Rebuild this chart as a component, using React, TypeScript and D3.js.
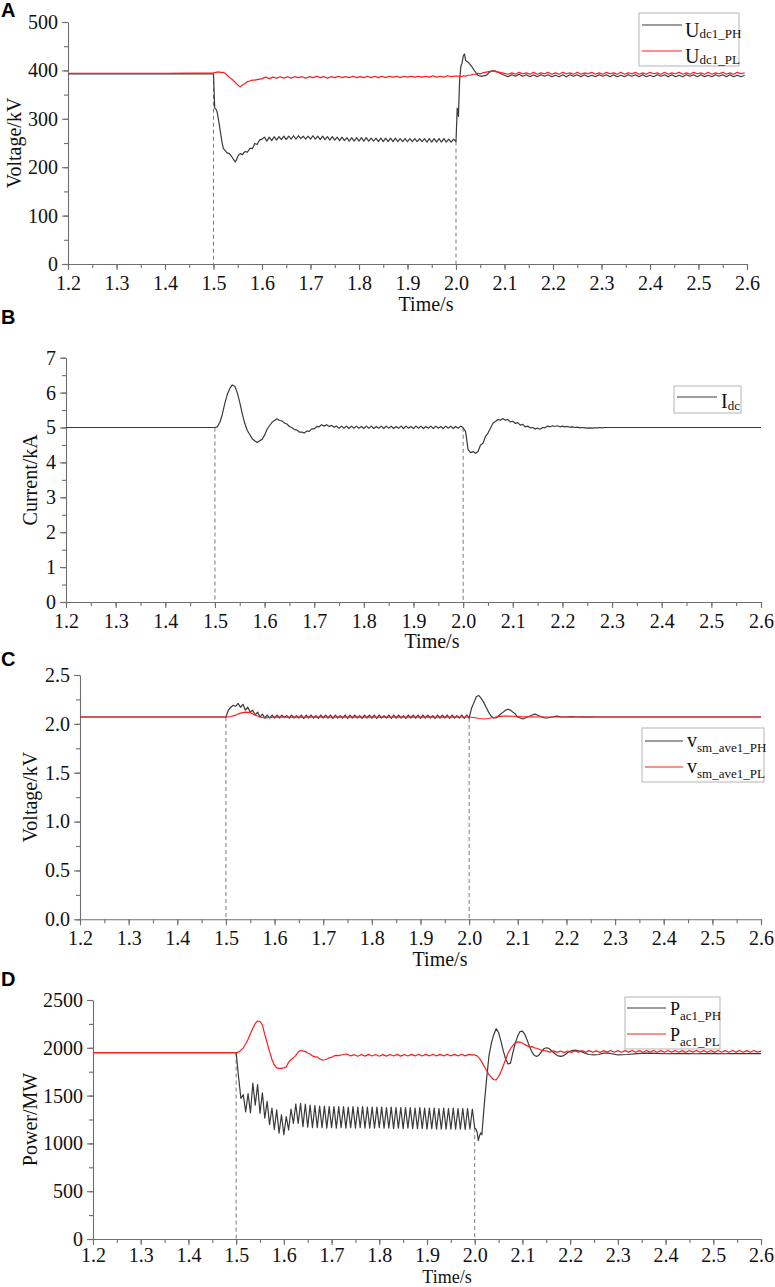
import { useEffect, useRef } from "react";
import * as d3 from "d3";

// [start time, step, values]
type Seg = [number, number, number[]];

const xTicks = [1.2, 1.3, 1.4, 1.5, 1.6, 1.7, 1.8, 1.9, 2.0, 2.1, 2.2, 2.3, 2.4, 2.5, 2.6];
const aYTicks = [0, 100, 200, 300, 400, 500];
const bYTicks = [0, 1, 2, 3, 4, 5, 6, 7];
const cYTicks = [0, 0.5, 1.0, 1.5, 2.0, 2.5];
const dYTicks = [0, 500, 1000, 1500, 2000, 2500];
const faultTimes = [1.5, 2.0];

// Panel A - DC voltage (kV)
const udcPH: Seg[] = [
  [1.2, 0.1, [393, 393, 393, 393]],
  [1.5025, 0.0025, [322, 320, 314, 300, 285, 268, 252, 240, 236, 233, 230, 229, 228, 225, 222, 218, 214, 211, 216, 222,
    226, 228, 227, 226, 230, 232, 232, 231, 235, 239, 239, 238, 243, 249, 248, 247, 252, 256]],
  [1.6, 0.005, [258,
    262, 254, 262, 255, 263, 256, 263, 257, 264, 257,
    264, 258, 265, 258, 265, 259, 264, 258, 264, 258,
    265, 258, 264, 257, 264, 257, 263, 256, 263, 256,
    262, 255, 262, 255, 261, 254, 261, 254, 261, 254,
    261, 254, 261, 254, 260, 254, 260, 253, 260, 253,
    260, 253, 260, 253, 260, 253, 259, 253, 259, 253,
    259, 253, 259, 253, 259, 253, 259, 252, 259, 252,
    259, 252, 259, 252, 259, 252, 258, 252, 258, 253]],
  [2.0025, 0.0025, [322, 305, 380, 408, 415, 430, 434, 420, 419, 417,
    414, 411, 408, 404, 400, 397, 393, 390, 389, 388,
    388, 388, 389, 389, 390, 392, 395, 397, 398, 399,
    399, 399, 398, 397, 396, 395, 393]],
  [2.1, 0.0075, [390, 387, 391, 388, 392, 388, 391, 387, 391, 387,
    391, 388, 391, 387, 390, 387, 391, 387, 391, 388,
    391, 387, 391, 387, 390, 387, 391, 388, 391, 387,
    391, 387, 390, 387, 391, 388, 391, 387, 391, 387,
    390, 387, 391, 388, 391, 387, 391, 387, 390, 387,
    391, 388, 391, 387, 391, 387, 390, 387, 391, 388,
    391, 387, 391, 387, 390, 387, 390]],
];

const udcPL: Seg[] = [
  [1.2, 0.1, [394, 394, 394, 395]],
  [1.505, 0.005, [396, 397, 396, 396, 393, 388, 384, 380, 375, 370, 366, 370, 373, 377, 378, 380, 380, 381, 382, 383]],
  [1.6075, 0.0075, [386, 383, 386, 384, 387, 384, 387, 384, 387, 385,
    387, 384, 387, 385, 388, 385, 387, 384, 387, 385,
    388, 385, 387, 385, 388, 385, 387, 385, 388, 385,
    388, 385, 388, 385, 388, 386, 388, 385, 388, 386,
    388, 386, 388, 386, 388, 386, 389, 386, 388, 386,
    389, 387, 388]],
  [2.005, 0.005, [388, 387, 389, 388, 390, 390, 392, 392, 394, 393, 395, 396, 397, 398, 399, 398, 397, 396, 395, 394]],
  [2.1075, 0.0075, [392, 395, 392, 396, 393, 395, 392, 396, 392, 395,
    393, 396, 392, 395, 392, 396, 393, 395, 392, 396,
    392, 395, 393, 396, 392, 395, 392, 396, 393, 395,
    392, 396, 392, 395, 393, 396, 392, 395, 392, 396,
    393, 395, 392, 396, 392, 395, 393, 396, 392, 395,
    392, 396, 393, 395, 392, 396, 392, 395, 393, 396,
    392, 395, 392, 396, 393, 395]],
];

// Panel B - DC current (kA)
const idc: Seg[] = [
  [1.2, 0.1, [5.0, 5.0, 5.0, 5.0]],
  [1.505, 0.005, [
    5.02, 5.15, 5.38, 5.70, 5.95, 6.12, 6.22, 6.18, 6.00, 5.72,
    5.40, 5.12, 4.92, 4.80, 4.68, 4.62, 4.57, 4.62, 4.66, 4.78,
    4.95, 5.05, 5.15, 5.20, 5.25, 5.20, 5.19, 5.13, 5.10, 5.03,
    5.00, 4.94, 4.93, 4.87, 4.87, 4.84, 4.90, 4.89, 4.96, 4.96,
    5.03, 5.02, 5.08, 5.04, 5.08, 5.03, 5.06, 5.01, 5.04, 4.98,
    5.04, 4.98, 5.04, 4.97, 5.04, 4.98, 5.04, 4.98, 5.03, 4.97,
    5.04, 4.98, 5.04, 4.97, 5.03, 4.98, 5.04, 4.97, 5.04, 4.98,
    5.04, 4.97, 5.03, 4.98, 5.04, 4.97, 5.04, 4.98, 5.03, 4.97,
    5.04, 4.98, 5.04, 4.97, 5.03, 4.98, 5.04, 4.97, 5.04, 4.98,
    5.03, 4.97, 5.04, 4.98, 5.04, 4.97, 5.03, 4.98, 5.04, 4.99]],
  [2.005, 0.005, [
    4.88, 4.36, 4.28, 4.31, 4.26, 4.31, 4.50, 4.55, 4.74, 4.84,
    4.98, 5.12, 5.17, 5.23, 5.21, 5.26, 5.21, 5.23, 5.16, 5.18,
    5.12, 5.14, 5.07, 5.09, 5.02, 5.04, 4.99, 5.00, 4.96, 4.98,
    4.95, 5.00, 4.99, 5.04, 5.02, 5.05, 5.03, 5.05, 5.02, 5.04,
    5.02, 5.03, 5.01, 5.02, 5.00, 5.01, 4.99, 5.00, 4.99, 4.98,
    4.99, 4.98, 4.99, 4.99, 5.00, 4.99, 5.00, 5.00, 5.00, 5.00]],
  [2.35, 0.05, [5.0, 5.0, 5.0, 5.0, 5.0, 5.0]],
];

// Panel C - average submodule voltage (kV)
const vsmPH: Seg[] = [
  [1.2, 0.1, [2.07, 2.07, 2.07, 2.07]],
  [1.505, 0.005, [
    2.14, 2.17, 2.19, 2.18, 2.21, 2.17, 2.20, 2.14, 2.17, 2.12,
    2.14, 2.09, 2.12, 2.07, 2.10, 2.06, 2.09, 2.06, 2.09, 2.06,
    2.09, 2.06, 2.09, 2.065, 2.085, 2.06, 2.09, 2.06, 2.085, 2.06,
    2.09, 2.055, 2.09, 2.06, 2.09, 2.06, 2.085, 2.055, 2.09, 2.06,
    2.09, 2.06, 2.09, 2.055, 2.09, 2.06, 2.085, 2.06, 2.09, 2.055,
    2.09, 2.06, 2.09, 2.06, 2.085, 2.055, 2.09, 2.06, 2.09, 2.06,
    2.09, 2.055, 2.09, 2.06, 2.085, 2.06, 2.09, 2.055, 2.09, 2.06,
    2.09, 2.06, 2.085, 2.055, 2.09, 2.06, 2.09, 2.06, 2.09, 2.055,
    2.09, 2.06, 2.09, 2.06, 2.085, 2.055, 2.09, 2.06, 2.09, 2.06,
    2.09, 2.055, 2.09, 2.06, 2.085, 2.06, 2.09, 2.055, 2.09, 2.06]],
  [2.005, 0.005, [
    2.16, 2.22, 2.28, 2.29, 2.26, 2.22, 2.17, 2.12, 2.08, 2.06,
    2.06, 2.08, 2.10, 2.12, 2.14, 2.15, 2.14, 2.12, 2.10, 2.07,
    2.06, 2.05, 2.06, 2.07, 2.08, 2.09, 2.10, 2.09, 2.08, 2.07,
    2.06, 2.06, 2.065, 2.07, 2.075, 2.08, 2.075, 2.07, 2.07, 2.07]],
  [2.21, 0.01, [2.075, 2.07, 2.072, 2.068, 2.072, 2.07, 2.07, 2.07, 2.07]],
  [2.3, 0.1, [2.07, 2.07, 2.07, 2.07]],
];

const vsmPL: Seg[] = [
  [1.2, 0.1, [2.07, 2.07, 2.07, 2.07]],
  [1.51, 0.01, [2.075, 2.09, 2.11, 2.12, 2.115, 2.09, 2.07, 2.062, 2.065, 2.068]],
  [1.62, 0.02, [2.07, 2.068, 2.07, 2.068, 2.07, 2.068, 2.07, 2.068, 2.07, 2.068,
    2.07, 2.068, 2.07, 2.068, 2.07, 2.068, 2.07, 2.068, 2.07, 2.07]],
  [2.01, 0.01, [2.065, 2.055, 2.05, 2.055, 2.065, 2.075, 2.08, 2.08, 2.078, 2.075, 2.073, 2.072]],
  [2.15, 0.05, [2.07, 2.07, 2.07, 2.07, 2.07, 2.07, 2.07, 2.07, 2.07, 2.07]],
];

// Panel D - AC active power (MW)
const pacPH: Seg[] = [
  [1.2, 0.1, [1950, 1950, 1950, 1950]],
  [1.505, 0.005, [
    1700, 1470, 1510, 1330, 1520, 1320, 1630, 1400, 1615, 1315,
    1530, 1265, 1440, 1195, 1370, 1145, 1350, 1108, 1300, 1090,
    1280, 1140, 1360, 1210, 1410, 1210, 1420,
    1175, 1410, 1170, 1400, 1165, 1395, 1165, 1390, 1165, 1390,
    1160, 1385, 1165, 1385, 1160, 1385, 1165, 1385, 1160, 1380,
    1165, 1385, 1160, 1380, 1165, 1385, 1160, 1380, 1160, 1380,
    1160, 1380, 1165, 1380, 1160, 1375, 1160, 1380, 1155, 1375,
    1160, 1375, 1155, 1375, 1160, 1375, 1155, 1370, 1155, 1375,
    1155, 1370, 1150, 1370, 1155, 1370, 1150, 1365, 1150, 1370,
    1150, 1365, 1150, 1370, 1150, 1365, 1150, 1365, 1145, 1365,
    1150, 1360, 1160]],
  [2.0025, 0.0025, [1150, 1120, 1030, 1080, 1110, 1090, 1250, 1400]],
  [2.025, 0.005, [
    1680, 1920, 2050, 2140, 2200, 2160, 2070, 1965, 1880, 1830,
    1840, 1950, 2050, 2120, 2170, 2175, 2140, 2080, 2010, 1955,
    1920, 1910, 1925, 1960, 1990, 2000, 1995, 1975, 1950, 1930,
    1915, 1910, 1915, 1930, 1950, 1965]],
  [2.21, 0.01, [1975, 1965, 1945, 1930, 1925, 1930, 1945, 1945, 1935, 1925]],
  [2.32, 0.02, [1930, 1940, 1945, 1942, 1938, 1940, 1942, 1938, 1940, 1942, 1938, 1940, 1940, 1940, 1940]],
];

const pacPL: Seg[] = [
  [1.2, 0.1, [1950, 1950, 1950, 1950]],
  [1.505, 0.005, [
    1955, 1975, 2000, 2040, 2090, 2150, 2205, 2255, 2280, 2275,
    2240, 2140, 2050, 1960, 1880, 1820, 1790, 1785, 1785, 1790,
    1800, 1850, 1875, 1895, 1920, 1955, 1972, 1968, 1960, 1945,
    1935, 1915, 1905, 1905, 1885, 1872, 1875, 1880, 1895, 1900,
    1915, 1920, 1918, 1925, 1930, 1935, 1928, 1915]],
  [1.7475, 0.0075, [
    1928, 1912, 1930, 1913, 1931, 1914, 1930, 1912, 1929, 1913,
    1930, 1914, 1931, 1913, 1930, 1914, 1931, 1915, 1932, 1914,
    1931, 1915, 1932, 1915, 1931, 1916, 1932, 1915, 1931, 1916,
    1932, 1916, 1931, 1925]],
  [2.0, 0.005, [
    1925, 1915, 1890, 1850, 1805, 1760, 1720, 1690, 1668, 1665,
    1700, 1750, 1815, 1880, 1945, 1990, 2025, 2050, 2062, 2060,
    2048, 2035, 2020, 2010, 2012, 2000, 1995, 1985, 1975, 1970,
    1968]],
  [2.1575, 0.0075, [
    1955, 1968, 1952, 1966, 1950, 1966, 1952, 1968, 1953, 1970,
    1955, 1970, 1953, 1968, 1952, 1970, 1955, 1971, 1954, 1970,
    1953, 1970, 1955, 1972, 1954, 1970, 1953, 1971, 1955, 1972,
    1954, 1970, 1953, 1971, 1955, 1972, 1954, 1970, 1953, 1971,
    1955, 1972, 1954, 1970, 1953, 1971, 1955, 1972, 1954, 1970,
    1953, 1971, 1955, 1972, 1954, 1970, 1953, 1971, 1955, 1965]],
  [2.6, 1, [1962]],
];

const legendA = [["U", "dc1_PH"], ["U", "dc1_PL"]];
const legendB = [["I", "dc"]];
const legendC = [["v", "sm_ave1_PH"], ["v", "sm_ave1_PL"]];
const legendD = [["P", "ac1_PH"], ["P", "ac1_PL"]];

const DARK = "#3a3a3a";
const RED = "#ff1c1c";
const AXIS = "#6f6f6f";
const SERIF = "'Liberation Serif', 'Times New Roman', serif";

function expand(segs: Seg[]) {
  const out: [number, number][] = [];
  for (const [t0, dt, vals] of segs) vals.forEach((v, i) => out.push([t0 + i * dt, v]));
  return out;
}

const panels = [
  {
    letter: "A", letterY: 17, x0: 68, x1: 747, yTop: 22, yBot: 264, yTicks: aYTicks, yMinor: 50, fmt: "d",
    yLabel: "Voltage/kV", yLabelX: 21, timeX: 426, timeY: 311, timeFont: 20, pad: 6,
    series: [udcPH, udcPL], names: legendA,
    legend: { x: 639, y: 13, w: 100, h: 53, lx1: 642, lx2: 682, tx: 685, font: 20, sub: 13, subDy: 1.5, rows: [[25, 36.5], [51, 62.5]] },
  },
  {
    letter: "B", letterY: 324, x0: 66, x1: 761, yTop: 357.7, yBot: 602, yTicks: bYTicks, yMinor: 0.5, fmt: "d",
    yLabel: "Current/kA", yLabelX: 36.5, timeX: 432, timeY: 648, timeFont: 20, pad: 6,
    series: [idc], names: legendB,
    legend: { x: 674, y: 386, w: 67, h: 27, lx1: 677, lx2: 717, tx: 721, font: 20, sub: 13, subDy: 1.5, rows: [[397, 408]] },
  },
  {
    letter: "C", letterY: 666, x0: 80, x1: 761, yTop: 675, yBot: 919.3, yTicks: cYTicks, yMinor: 0.25, fmt: ".1f",
    yLabel: "Voltage/kV", yLabelX: 36.5, timeX: 440, timeY: 966, timeFont: 20, pad: 6,
    series: [vsmPH, vsmPL], names: legendC,
    legend: { x: 642, y: 728, w: 122, h: 54, lx1: 645, lx2: 683, tx: 687, font: 20, sub: 13, subDy: 5.5, rows: [[741, 746.5], [767, 772.5]] },
  },
  {
    letter: "D", letterY: 986, x0: 93, x1: 761, yTop: 1000, yBot: 1239, yTicks: dYTicks, yMinor: 250, fmt: "d",
    yLabel: "Power/MW", yLabelX: 37, timeX: 447, timeY: 1283, timeFont: 18, pad: 3,
    series: [pacPH, pacPL], names: legendD,
    legend: { x: 625, y: 997, w: 95, h: 52, lx1: 627, lx2: 666, tx: 670, font: 18, sub: 13, subDy: 4.5, rows: [[1008, 1015], [1034, 1041]] },
  },
];

export default function App() {
  const svgRef = useRef<SVGSVGElement | null>(null);

  useEffect(() => {
    if (!svgRef.current) return;
    const svg = d3.select(svgRef.current);
    svg.selectAll("*").remove();

    panels.forEach((p, pi) => {
      const g = svg.append("g");
      const x = d3.scaleLinear().domain([1.2, 2.6]).range([p.x0, p.x1]);
      const yMax = p.yTicks[p.yTicks.length - 1];
      const y = d3.scaleLinear().domain([0, yMax]).range([p.yBot, p.yTop]);

      // panel letter
      g.append("text")
        .attr("x", 1)
        .attr("y", p.letterY)
        .style("font-family", "'Liberation Sans', Arial, sans-serif")
        .attr("font-weight", 700)
        .attr("font-size", 20)
        .text(p.letter);

      const clipId = `clip-${pi}`;
      svg.append("clipPath").attr("id", clipId)
        .append("rect")
        .attr("x", p.x0).attr("y", p.yTop - 30)
        .attr("width", p.x1 - p.x0).attr("height", p.yBot - p.yTop + 30);

      const pts = p.series.map(expand);

      // dashed fault markers
      faultTimes.forEach((ft) => {
        const before = pts[0].filter((d) => d[0] <= ft + 1e-9);
        const top = before[before.length - 1][1];
        g.append("line")
          .attr("x1", x(ft)).attr("x2", x(ft))
          .attr("y1", y(top)).attr("y2", p.yBot)
          .attr("stroke", "#7a7a7a")
          .attr("stroke-width", 1)
          .attr("stroke-dasharray", "4,3");
      });

      // axes: minor ticks first, then majors with labels
      const minorX = d3.range(1.2, 2.6001, 0.05);
      const minorY = d3.range(0, yMax + 1e-9, p.yMinor);

      const xAxisMinor = g.append("g")
        .attr("transform", `translate(0,${p.yBot})`)
        .call(d3.axisBottom(x).tickValues(minorX).tickSize(4).tickFormat(() => ""));
      xAxisMinor.select(".domain").remove();

      const yAxisMinor = g.append("g")
        .attr("transform", `translate(${p.x0},0)`)
        .call(d3.axisLeft(y).tickValues(minorY).tickSize(4).tickFormat(() => ""));
      yAxisMinor.select(".domain").remove();

      g.append("g")
        .attr("transform", `translate(0,${p.yBot})`)
        .call(d3.axisBottom(x).tickValues(xTicks).tickSize(6).tickSizeOuter(0).tickPadding(p.pad).tickFormat(d3.format(".1f")));

      g.append("g")
        .attr("transform", `translate(${p.x0},0)`)
        .call(d3.axisLeft(y).tickValues(p.yTicks).tickSize(6).tickSizeOuter(0).tickPadding(4).tickFormat(d3.format(p.fmt)));

      g.selectAll(".domain, .tick line").attr("stroke", AXIS).attr("stroke-width", 1.1);
      g.selectAll(".tick text")
        .style("font-family", SERIF)
        .style("font-size", "20px")
        .attr("fill", "#111");

      // series
      const line = d3.line<[number, number]>()
        .x((d) => x(d[0]))
        .y((d) => y(d[1]));

      pts.forEach((data, si) => {
        g.append("path")
          .datum(data)
          .attr("clip-path", `url(#${clipId})`)
          .attr("fill", "none")
          .attr("stroke", si === 0 ? DARK : RED)
          .attr("stroke-width", 1.2)
          .attr("stroke-linejoin", "round")
          .attr("d", line);
      });

      // axis titles
      g.append("text")
        .attr("transform", `translate(${p.yLabelX},${(p.yTop + p.yBot) / 2}) rotate(-90)`)
        .attr("text-anchor", "middle")
        .style("font-family", SERIF)
        .style("font-size", "20px")
        .attr("fill", "#111")
        .text(p.yLabel);

      g.append("text")
        .attr("x", p.timeX)
        .attr("y", p.timeY)
        .attr("text-anchor", "middle")
        .style("font-family", SERIF)
        .style("font-size", `${p.timeFont}px`)
        .attr("fill", "#111")
        .text("Time/s");

      // legend
      const L = p.legend;
      const lg = g.append("g");
      lg.append("rect")
        .attr("x", L.x).attr("y", L.y)
        .attr("width", L.w).attr("height", L.h)
        .attr("fill", "#fff")
        .attr("stroke", "#b5b5b5")
        .attr("stroke-width", 1);

      p.names.forEach(([main, sub], i) => {
        const [ly, ty] = L.rows[i];
        lg.append("line")
          .attr("x1", L.lx1).attr("x2", L.lx2)
          .attr("y1", ly).attr("y2", ly)
          .attr("stroke", i === 0 ? DARK : RED)
          .attr("stroke-width", 1.2);
        const t = lg.append("text")
          .attr("x", L.tx)
          .attr("y", ty)
          .style("font-family", SERIF)
          .style("font-size", `${L.font}px`)
          .attr("fill", "#111");
        t.append("tspan").text(main);
        t.append("tspan")
          .style("font-size", `${L.sub}px`)
          .attr("dy", L.subDy)
          .text(sub);
      });
    });
  }, []);

  return (
    <svg
      ref={svgRef}
      width={775}
      height={1287}
      style={{ position: "absolute", left: 0, top: 0, background: "#fff" }}
    />
  );
}
